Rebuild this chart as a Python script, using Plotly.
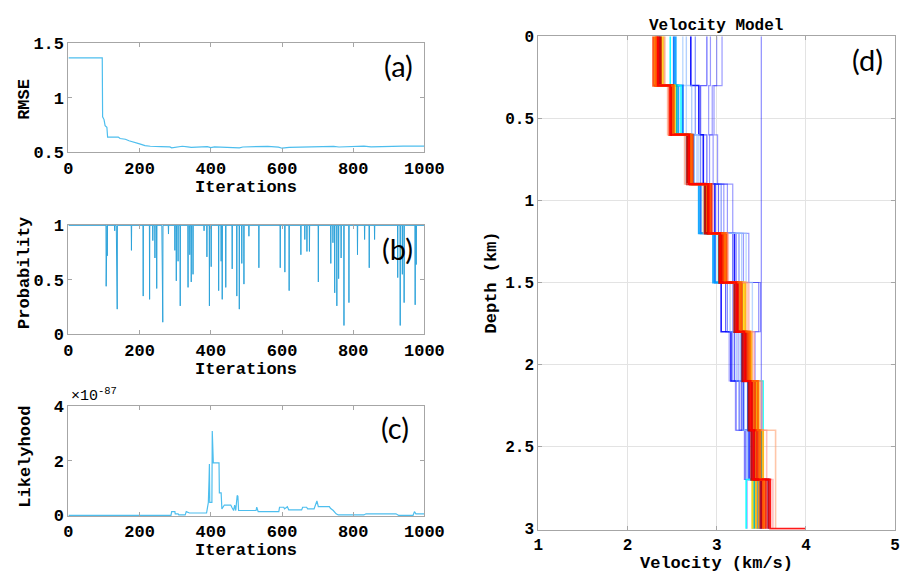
import plotly.graph_objects as go

W, H = 913, 578

# ---------------- data ----------------
iteration_ticks = [0, 200, 400, 600, 800, 1000]

# (a) RMSE
rmse_iter = [0, 95, 96, 100, 103, 108, 110, 140, 145, 160, 170, 185, 200, 215, 230, 260,
             285, 290, 300, 320, 335, 345, 390, 400, 410, 470, 480, 490, 520, 560, 590,
             600, 620, 680, 700, 745, 760, 830, 850, 920, 940, 1000]
rmse_val = [1.364, 1.364, 0.825, 0.80, 0.745, 0.73, 0.64, 0.64, 0.627, 0.62, 0.606, 0.588,
            0.577, 0.562, 0.556, 0.553, 0.55, 0.542, 0.546, 0.556, 0.55, 0.545, 0.552, 0.544,
            0.551, 0.548, 0.542, 0.549, 0.55, 0.555, 0.548, 0.538, 0.546, 0.551, 0.549,
            0.554, 0.549, 0.557, 0.551, 0.551, 0.557, 0.558]

# (b) acceptance probability: iterations where it drops below 1, and the value reached
prob_iter = [106, 109, 130, 135, 137, 177, 210, 228, 237, 243, 248, 263, 265, 281, 299, 303,
             308, 314, 336, 341, 345, 350, 381, 389, 396, 401, 422, 429, 432, 442, 460, 473,
             480, 487, 493, 507, 535, 595, 608, 620, 653, 664, 670, 677, 702, 737, 743, 748,
             754, 759, 766, 774, 788, 812, 832, 845, 860, 925, 932, 938, 943, 974, 977]
prob_min = [0.44, 0.72, 0.95, 0.62, 0.23, 0.77, 0.35, 0.32, 0.86, 0.70, 0.42, 0.70, 0.11,
            0.92, 0.77, 0.49, 0.67, 0.26, 0.43, 0.73, 0.48, 0.55, 0.95, 0.71, 0.26, 0.62,
            0.40, 0.67, 0.32, 0.43, 0.60, 0.35, 0.23, 0.65, 0.46, 0.90, 0.61, 0.61, 0.57,
            0.40, 0.73, 0.87, 0.76, 0.76, 0.48, 0.65, 0.84, 0.38, 0.26, 0.51, 0.70, 0.08,
            0.29, 0.73, 0.87, 0.61, 0.87, 0.52, 0.08, 0.55, 0.29, 0.27, 0.64]

# (c) likelihood (x 1e-87)
lik_iter = [0, 288, 290, 299, 300, 308, 310, 328, 331, 336, 340, 388, 393, 395, 396, 397,
            403, 404, 405, 407, 423, 424, 429, 431, 438, 456, 459, 464, 467, 470, 474, 476,
            478, 482, 527, 529, 533, 591, 593, 605, 607, 615, 619, 655, 658, 669, 672, 690,
            694, 698, 702, 733, 736, 744, 752, 758, 830, 836, 920, 928, 968, 972, 976, 1000]
lik_val = [0, 0, 0.14, 0.14, 0.06, 0.06, 0.02, 0.02, 0.14, 0.10, 0.09, 0.09, 0.47, 1.30,
           1.88, 0.48, 0.48, 3.08, 2.53, 1.92, 1.92, 0.82, 0.82, 0.24, 0.38, 0.38, 0.30,
           0.18, 0.38, 0.18, 0.73, 0.70, 0.18, 0.18, 0.18, 0.30, 0.14, 0.14, 0.30, 0.30,
           0.24, 0.32, 0.20, 0.20, 0.30, 0.30, 0.24, 0.24, 0.40, 0.53, 0.32, 0.32, 0.26,
           0.18, 0.06, 0.02, 0.02, 0.06, 0.06, 0.0, 0.0, 0.14, 0.06, 0.06]

# (d) layered velocity models (km/s), 10 layers of 0.3 km
layer_tops = [0.0, 0.3, 0.6, 0.9, 1.2, 1.5, 1.8, 2.1, 2.4, 2.7, 3.0]
vel_profiles = [
    [3.50, 3.50, 3.50, 3.50, 3.50, 3.50, 3.50, 3.50, 3.50, 3.50],
    [3.06, 2.97, 3.01, 3.18, 3.36, 3.49, 3.43, 3.22, 3.31, 3.34],
    [2.93, 2.91, 2.96, 3.12, 3.30, 3.47, 3.24, 3.26, 3.34, 3.40],
    [3.00, 2.95, 2.92, 3.08, 3.22, 3.18, 3.14, 3.21, 3.37, 3.49],
    [2.89, 2.82, 2.89, 3.02, 3.18, 3.10, 3.20, 3.28, 3.32, 3.50],
    [2.71, 2.80, 2.85, 2.98, 3.20, 3.05, 3.16, 3.30, 3.36, 3.48],
    [2.76, 2.76, 2.82, 3.05, 3.25, 3.12, 3.18, 3.25, 3.37, 3.55],
    [2.66, 2.72, 2.78, 2.95, 3.28, 3.15, 3.22, 3.29, 3.34, 3.45],
    [2.62, 2.66, 2.80, 2.92, 3.33, 3.40, 3.26, 3.31, 3.35, 3.52],
    [2.52, 2.62, 2.74, 2.82, 2.98, 3.22, 3.28, 3.35, 3.40, 3.58],
    [2.54, 2.57, 2.70, 2.80, 2.96, 3.25, 3.30, 3.40, 3.43, 3.46],
    [2.48, 2.60, 2.66, 2.86, 3.02, 3.20, 3.32, 3.52, 3.46, 3.33],
    [2.36, 2.55, 2.68, 2.88, 3.05, 3.28, 3.34, 3.44, 3.50, 3.42],
    [2.40, 2.53, 2.71, 2.93, 3.10, 3.30, 3.38, 3.45, 3.48, 3.40],
    [2.31, 2.52, 2.72, 2.90, 3.08, 3.26, 3.36, 3.42, 3.44, 3.47],
    [2.38, 2.50, 2.68, 2.89, 3.06, 3.32, 3.39, 3.47, 3.52, 3.44],
    [2.42, 2.45, 2.64, 2.85, 3.12, 3.34, 3.40, 3.49, 3.66, 3.66],
    [2.37, 2.51, 2.67, 2.87, 3.03, 3.20, 3.29, 3.36, 3.39, 3.50],
    [2.29, 2.47, 2.73, 2.92, 3.11, 3.28, 3.35, 3.43, 3.47, 3.52],
    [2.41, 2.46, 2.65, 2.96, 3.13, 3.36, 3.42, 3.51, 3.56, 3.63],
    [2.33, 2.49, 2.70, 2.94, 3.07, 3.24, 3.33, 3.40, 3.45, 3.55],
    [2.35, 2.50, 2.70, 2.90, 3.05, 3.23, 3.32, 3.39, 3.42, 3.58],
    [2.32, 2.51, 2.71, 2.92, 3.09, 3.27, 3.37, 3.46, 3.49, 3.53],
    [2.34, 2.48, 2.69, 2.91, 3.04, 3.22, 3.31, 3.38, 3.41, 3.60],
]
profile_colors = ['#0000FF', '#0000FF', '#0000FF', '#2020FF', '#0000FF', '#0000FF', '#3050FF',
                  '#80B0FF', '#A0C8FF', '#0070FF', '#00A0FF', '#00FFFF', '#00B0B0', '#FFE000',
                  '#FF9000', '#FFB000', '#FFA070', '#C00000', '#FF4500', '#FF8080', '#FF2000',
                  '#E00000', '#FF6000', '#FF0000']
profile_alpha = [0.45, 0.4, 0.4, 0.45, 0.6, 0.9, 0.6, 0.6, 0.7, 0.9, 0.9, 0.9, 0.9, 0.9,
                 0.9, 0.9, 0.6, 0.9, 0.9, 0.5, 0.9, 0.9, 0.9, 0.9]
profile_width = [1.2, 1.2, 1.2, 1.2, 1.2, 1.6, 1.2, 1.4, 1.4, 2.0, 2.0, 1.6, 2.0, 2.0,
                 2.2, 2.0, 1.6, 2.4, 2.2, 1.6, 2.2, 2.2, 2.2, 2.0]
halfspace_velocity = 4.0

# ---------------- figure ----------------
fig = go.Figure()

LINE_BLUE = '#4DBEEE'

fig.add_trace(go.Scatter(x=rmse_iter, y=rmse_val, mode='lines',
                         line=dict(color=LINE_BLUE, width=1.2), xaxis='x', yaxis='y'))

# probability series built from the drop list
px_, py_ = [0], [1.0]
for it, p in zip(prob_iter, prob_min):
    px_ += [it - 0.6, it, it + 0.6]
    py_ += [1.0, p, 1.0]
px_.append(1000)
py_.append(1.0)
fig.add_trace(go.Scatter(x=px_, y=py_, mode='lines',
                         line=dict(color='#2EA3DA', width=1.0), xaxis='x2', yaxis='y2'))

fig.add_trace(go.Scatter(x=lik_iter, y=lik_val, mode='lines',
                         line=dict(color=LINE_BLUE, width=1.2), xaxis='x3', yaxis='y3'))


def rgba(hexc, a):
    h = hexc.lstrip('#')
    r, g, b = int(h[0:2], 16), int(h[2:4], 16), int(h[4:6], 16)
    return f'rgba({r},{g},{b},{a})'


n = len(vel_profiles)
for i, (vals, col, a, w) in enumerate(zip(vel_profiles, profile_colors, profile_alpha, profile_width)):
    xs = list(vals) + [vals[-1]]
    ys = list(layer_tops)
    if i == n - 1:
        xs.append(halfspace_velocity)
        ys.append(layer_tops[-1])
    fig.add_trace(go.Scatter(x=xs, y=ys, mode='lines', line_shape='vh',
                             line=dict(color=rgba(col, a), width=w),
                             xaxis='x4', yaxis='y4'))

tickfont = dict(family='Liberation Mono', size=17, color='black', weight='bold')
tickfont_d = dict(family='Liberation Mono', size=16, color='black', weight='bold')
axis_common = dict(showline=True, linecolor='#A6A6A6', linewidth=1, mirror='ticks',
                   ticks='inside', ticklen=4, tickcolor='#A6A6A6', tickfont=tickfont,
                   zeroline=False, showgrid=False)


def fx(p):
    return p / W


def fy(p):
    return 1 - p / H


xa_dom = [fx(57), fx(423)]
layout = dict(
    width=W, height=H, margin=dict(l=0, r=0, t=0, b=0),
    paper_bgcolor='white', plot_bgcolor='white', showlegend=False,
    xaxis=dict(axis_common, domain=xa_dom, range=[0, 1000], tickvals=iteration_ticks, anchor='y'),
    yaxis=dict(axis_common, domain=[fy(141), fy(28)], range=[0.5, 1.5], tickvals=[0.5, 1, 1.5],
               ticktext=['0.5', '1', '1.5'], anchor='x'),
    xaxis2=dict(axis_common, domain=xa_dom, range=[0, 1000], tickvals=iteration_ticks, anchor='y2'),
    yaxis2=dict(axis_common, domain=[fy(329), fy(216)], range=[0, 1.004], tickvals=[0, 0.5, 1],
                ticktext=['0', '0.5', '1'], anchor='x2'),
    xaxis3=dict(axis_common, domain=xa_dom, range=[0, 1000], tickvals=iteration_ticks, anchor='y3'),
    yaxis3=dict(axis_common, domain=[fy(517), fy(403)], range=[-0.02, 4], tickvals=[0, 2, 4],
                anchor='x3'),
    xaxis4=dict(axis_common, domain=[fx(540), fx(907)], range=[1, 5], tickvals=[1, 2, 3, 4, 5],
                anchor='y4', showgrid=True, gridcolor='#E3E3E3', tickfont=tickfont_d),
    yaxis4=dict(axis_common, domain=[fy(531), fy(21)], range=[3.005, 0],
                tickvals=[0, 0.5, 1, 1.5, 2, 2.5, 3],
                ticktext=['0', '0.5', '1', '1.5', '2', '2.5', '3'],
                anchor='x4', showgrid=True, gridcolor='#E3E3E3', tickfont=tickfont_d),
)
fig.update_layout(**layout)

title_font = dict(family='Liberation Mono', size=17, color='black', weight='bold')
label_font = dict(family='Lato', size=29, color='black')


def ann(text, x, y, font, angle=0, xanchor='center', yanchor='middle'):
    fig.add_annotation(text=text, x=fx(x), y=fy(y), xref='paper', yref='paper',
                       showarrow=False, font=font, textangle=angle,
                       xanchor=xanchor, yanchor=yanchor)


ann('RMSE', 12, 86, title_font, angle=-90)
ann('Iterations', 240, 177, title_font)
ann('Probability', 12, 266, title_font, angle=-90)
ann('Iterations', 240, 365, title_font)
ann('Likelyhood', 12, 456, title_font, angle=-90)
ann('Iterations', 240, 553, title_font)
ann('Depth (km)', 492, 276, title_font, angle=-90)
ann('Velocity (km/s)', 723, 566, title_font)
ann('Velocity Model', 723, 10, dict(family='Liberation Mono', size=16, color='black', weight='bold'))
ann('×10<sup>-87</sup>', 58, 392, dict(family='Liberation Mono', size=15, color='black'),
    xanchor='left')
ann('(a)', 396, 51, label_font)
ann('(b)', 395, 240, label_font)
ann('(c)', 393, 426, label_font)
ann('(d)', 879, 45, label_font)

fig.write_html('out.html')
